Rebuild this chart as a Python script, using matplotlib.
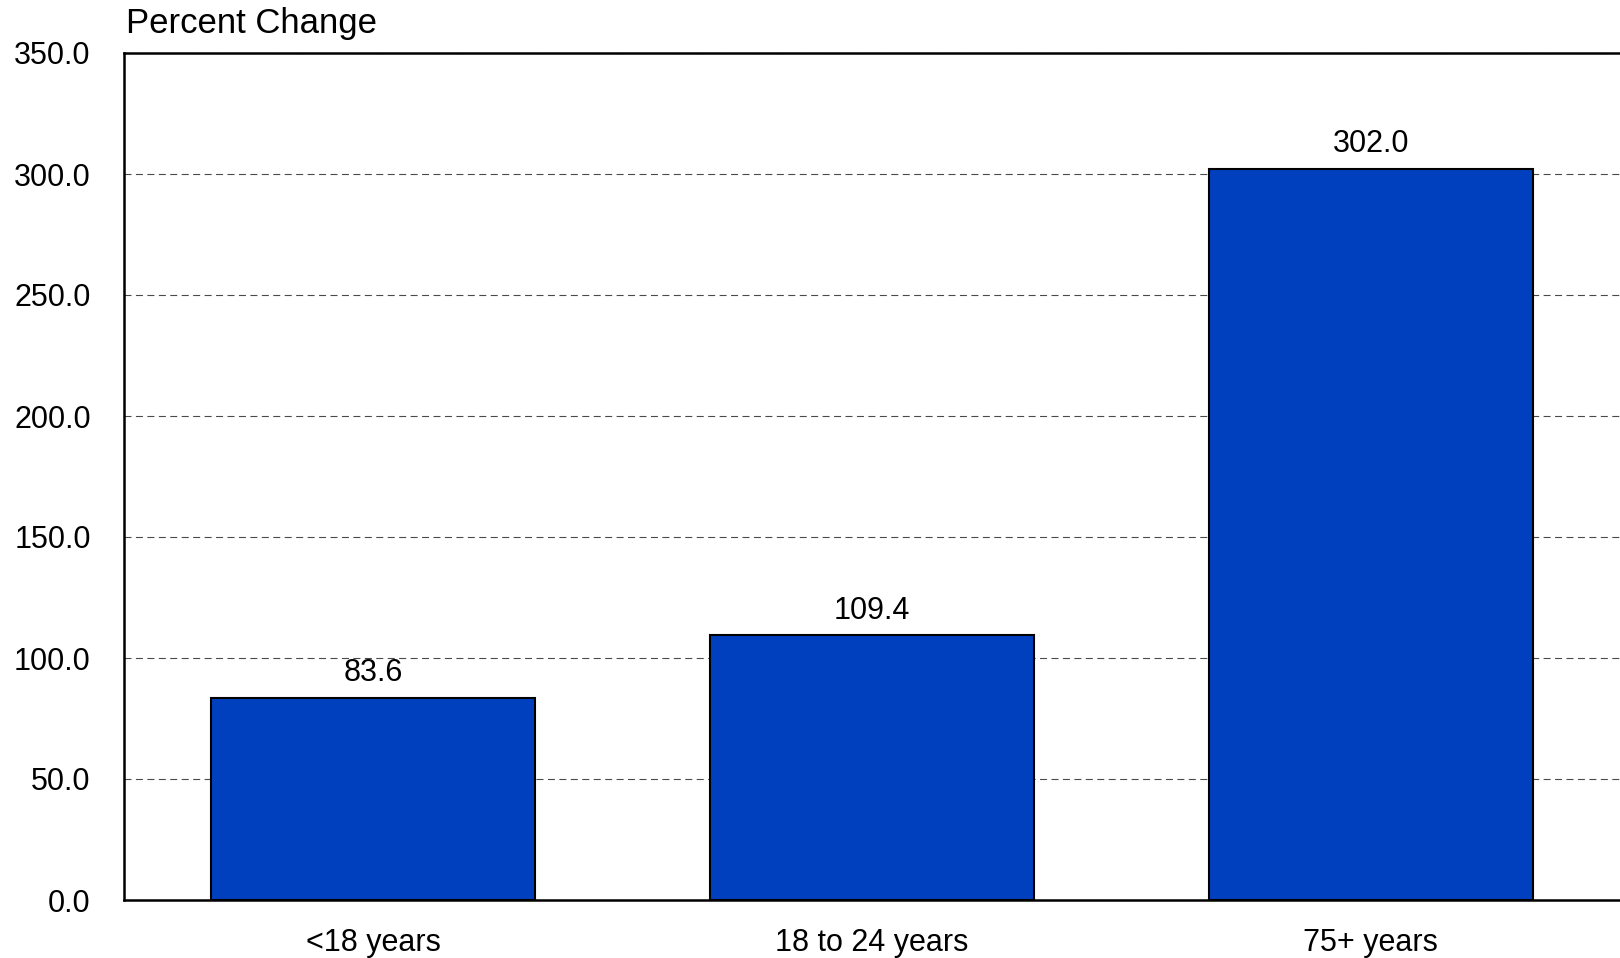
import matplotlib.pyplot as plt

categories = ['<18 years', '18 to 24 years', '75+ years']
values = [83.6, 109.4, 302.0]
yticks = [0, 50, 100, 150, 200, 250, 300, 350]

plt.rcParams['font.family'] = ['Liberation Sans', 'DejaVu Sans']

fig = plt.figure(figsize=(16.2, 9.58), dpi=100)
ax = fig.add_axes([124 / 1620, 1 - 900 / 958, 1 - 124 / 1620, (900 - 53) / 958])

x = list(range(len(categories)))
ax.bar(x, values, width=0.65, color='#0040BF', edgecolor='black', linewidth=1.5, zorder=3)
for xi, v in zip(x, values):
  ax.annotate(f'{v:.1f}', (xi, v), xytext=(0, 7), textcoords='offset points',
              ha='center', va='bottom', fontsize=22)

ax.set_xlim(-0.5, 2.5)
ax.set_ylim(0, 350)
ax.set_yticks(yticks)
ax.set_yticklabels([f'{t:.1f}' for t in yticks])
ax.set_xticks(x)
ax.set_xticklabels(categories)
ax.tick_params(axis='y', length=0, pad=24, labelsize=22)
ax.tick_params(axis='x', length=0, pad=20, labelsize=22)
ax.yaxis.grid(True, linestyle=(0, (6.3, 4)), color='#4a4a4a', linewidth=0.8, zorder=0)
ax.set_axisbelow(True)
for s in ['left', 'top', 'bottom']:
  ax.spines[s].set_linewidth(1.8)
ax.spines['right'].set_visible(False)

fig.text(126 / 1620, 1 - 33 / 958, 'Percent Change', fontsize=25, ha='left', va='baseline')

fig.savefig('out.png', dpi=100)
